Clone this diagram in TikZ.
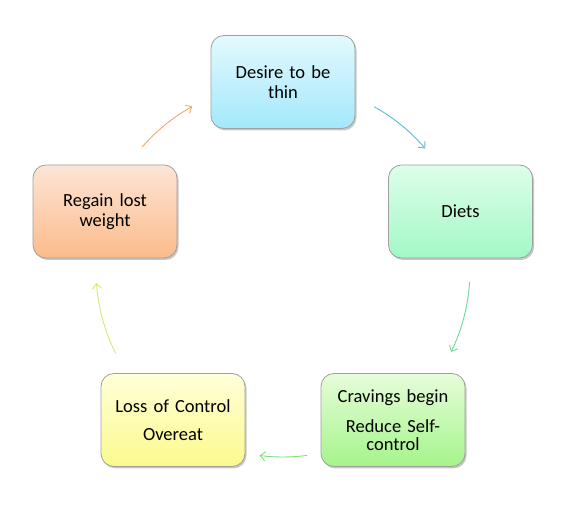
\documentclass[tikz,border=0pt]{standalone}
\usepackage{fontspec}
\setmainfont{Carlito}
\usetikzlibrary{arrows.meta,shadows}
\definecolor{c1t}{HTML}{E3F9FE}\definecolor{c1b}{HTML}{A3E8FB}
\definecolor{c2t}{HTML}{DDFEEA}\definecolor{c2b}{HTML}{A3F8C5}
\definecolor{c3t}{HTML}{E6FDD9}\definecolor{c3b}{HTML}{A5F48B}
\definecolor{c4t}{HTML}{FFFFD9}\definecolor{c4b}{HTML}{FBFA8D}
\definecolor{c5t}{HTML}{FDE5D6}\definecolor{c5b}{HTML}{FBBB8B}
\definecolor{a1}{HTML}{5BBCD6}
\definecolor{a2}{HTML}{6ADB9A}
\definecolor{a3}{HTML}{7DE07A}
\definecolor{a4}{HTML}{D5EC6B}
\definecolor{a5}{HTML}{F6A672}
\definecolor{edgegray}{HTML}{A0A0A0}
\tikzset{
  stagebox/.style={draw=edgegray, line width=0.8pt, rounded corners=13pt,
    minimum width=144pt, minimum height=93pt, align=center, text width=130pt,
    inner sep=0pt, font=\fontsize{18.5}{20}\selectfont,
    drop shadow={shadow xshift=1.5pt, shadow yshift=-2pt, opacity=0.22, fill=black}},
  cyclearrow/.style={line width=0.9pt, -{Straight Barb[length=5pt,width=9pt]}},
}
\begin{document}
\begin{tikzpicture}[x=1pt,y=1pt]
\useasboundingbox (0,0) rectangle (574,510);
\coordinate (c) at (283,240);
\node[stagebox, top color=c1t, bottom color=c1b] (desire) at (283,428) {Desire to be\\thin};
\node[stagebox, top color=c2t, bottom color=c2b] (diets) at (460.5,298.5) {Diets};
\node[stagebox, top color=c3t, bottom color=c3b] (cravings) at (393,90) {Cravings begin\\[10pt]Reduce Self-\\[-2pt]control};
\node[stagebox, top color=c4t, bottom color=c4b] (loss) at (173,90) {Loss of Control\\[8pt]Overeat};
\node[stagebox, top color=c5t, bottom color=c5b] (regain) at (105,298.5) {Regain lost\\weight};
\coordinate (s1) at ([shift={(60.8:187)}]c);
\coordinate (s2) at ([shift={(-3.7:187)}]c);
\coordinate (s3) at ([shift={(-82.6:187)}]c);
\coordinate (s4) at ([shift={(206.6:187)}]c);
\coordinate (s5) at ([shift={(138.9:187)}]c);
\draw[cyclearrow, a1] (s1) arc[start angle=60.8, end angle=40.5, radius=187];
\draw[cyclearrow, a2] (s2) arc[start angle=-3.7, end angle=-26, radius=187];
\draw[cyclearrow, a3] (s3) arc[start angle=-82.6, end angle=-97.2, radius=187];
\draw[cyclearrow, a4] (s4) arc[start angle=206.6, end angle=184, radius=187];
\draw[cyclearrow, a5] (s5) arc[start angle=138.9, end angle=119, radius=187];
\end{tikzpicture}
\end{document}
